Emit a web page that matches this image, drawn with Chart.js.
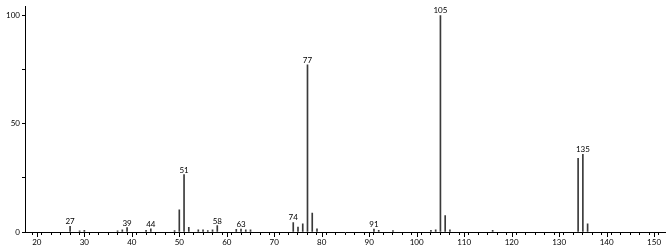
<!DOCTYPE html>
<html><head><meta charset="utf-8">
<script src="https://cdn.jsdelivr.net/npm/chart.js@4"></script>
<style>html,body{margin:0;padding:0;background:#fff}</style>
</head><body>
<canvas id="c" width="667" height="249"></canvas>
<script>
const mz = [27, 29, 30, 37, 38, 39, 43, 44, 49, 50, 51, 52, 54, 55, 56, 57, 58, 62, 63, 64, 65,
            74, 75, 76, 77, 78, 79, 91, 92, 95, 103, 104, 105, 106, 107, 116, 134, 135, 136];
const intensity = [2.6, 0.5, 0.8, 0.5, 1.0, 2.0, 0.8, 1.5, 0.7, 10.2, 26.5, 2.2, 1.0, 1.0, 0.6, 1.0, 3.0, 1.2, 1.3, 1.0, 1.0,
            4.4, 2.3, 3.8, 77.2, 8.7, 1.5, 1.4, 0.8, 0.6, 0.8, 1.0, 100, 7.6, 1.0, 0.8, 34.0, 35.9, 3.8];
const labeledPeaks = [27, 39, 44, 51, 58, 63, 74, 77, 91, 105, 135];
const xTickLabels = [20, 30, 40, 50, 60, 70, 80, 90, 100, 110, 120, 130, 140, 150];
const yTickLabels = [0, 50, 100];

const FONT = {family: 'Lato', size: 8};

const extras = {
  id: 'extras',
  afterDraw(chart) {
    const ctx = chart.ctx, xs = chart.scales.x, ys = chart.scales.y;
    const bottom = chart.chartArea.bottom;
    ctx.save();
    ctx.strokeStyle = '#000';
    ctx.lineWidth = 1;
    xTickLabels.forEach(v => {
      const px = Math.round(xs.getPixelForValue(v)) + 0.5;
      ctx.beginPath();
      ctx.moveTo(px, bottom);
      ctx.lineTo(px, bottom + 5);
      ctx.stroke();
    });
    ctx.fillStyle = '#000';
    ctx.font = FONT.size + 'px ' + FONT.family;
    ctx.textAlign = 'center';
    ctx.textBaseline = 'alphabetic';
    labeledPeaks.forEach(m => {
      const i = mz.indexOf(m);
      const px = xs.getPixelForValue(m);
      const py = ys.getPixelForValue(intensity[i]) - 2;
      ctx.fillText(String(m), px, py);
    });
    ctx.restore();
  }
};

new Chart(document.getElementById('c'), {
  type: 'bar',
  data: {
    datasets: [{
      data: mz.map((x, i) => ({x: x, y: intensity[i]})),
      backgroundColor: '#3a3a3a',
      borderWidth: 0,
      barThickness: 1
    }]
  },
  options: {
    responsive: false,
    animation: false,
    devicePixelRatio: 1,
    layout: {padding: {top: 5, right: 2, left: 0, bottom: 0}},
    plugins: {legend: {display: false}, tooltip: {enabled: false}},
    scales: {
      x: {
        type: 'linear',
        min: 17.5,
        max: 152.3,
        offset: false,
        grid: {display: true, drawOnChartArea: false, drawTicks: true, tickLength: 3, color: '#000', tickColor: '#000'},
        border: {display: true, color: '#000', width: 1},
        ticks: {
          stepSize: 2, includeBounds: false, autoSkip: false, maxRotation: 0, minRotation: 0,
          padding: 3, color: '#000', font: FONT,
          callback: v => xTickLabels.includes(v) ? String(v) : ''
        },
        afterFit: s => { s.height = 17; }
      },
      y: {
        min: 0,
        max: 104,
        grid: {display: true, drawOnChartArea: false, drawTicks: true, tickLength: 3, color: '#000', tickColor: '#000'},
        border: {display: true, color: '#000', width: 1},
        ticks: {
          stepSize: 25, includeBounds: false, autoSkip: false, padding: 2, color: '#000', font: FONT,
          callback: v => yTickLabels.includes(v) ? String(v) : ''
        },
        afterFit: s => { s.width = 25; }
      }
    }
  },
  plugins: [extras]
});
</script>
</body></html>
